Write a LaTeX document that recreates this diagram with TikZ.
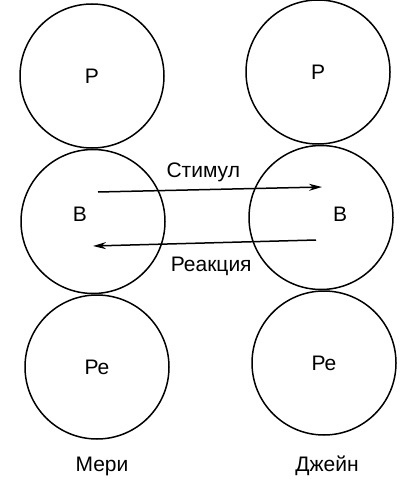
\documentclass[tikz,border=0pt]{standalone}
\usepackage{fontspec}
\setmainfont{Liberation Sans}
\usetikzlibrary{positioning,arrows.meta}

\tikzset{
  state/.style={draw,circle,line width=1.5pt,minimum size=144pt,inner sep=0pt,
    font=\fontsize{21}{25}\selectfont},
  txt/.style={font=\fontsize{21}{25}\selectfont,inner sep=1pt},
  msg/.style={line width=1.5pt,-{Stealth[length=13pt,width=7pt]}}
}

\begin{document}
\begin{tikzpicture}[x=1pt,y=-1pt]
\useasboundingbox (0,0) rectangle (400,481);

\node[state] (MeriP) at (92,76) {Р};
\node[state] (MeriB) [below=0pt of MeriP,xshift=1pt] {};
\node[state] (MeriRe) [below=0pt of MeriB,xshift=4pt] {Ре};
\node[state] (JaneP) at (318,72) {Р};
\node[state] (JaneB) [below=0pt of JaneP,xshift=3pt] {};
\node[state] (JaneRe) [below=0pt of JaneB,xshift=3pt] {Ре};

\node[txt] at ([xshift=-13pt,yshift=7pt]MeriB.center) {В};
\node[txt] at ([xshift=19pt,yshift=3pt]JaneB.center) {В};

\node[txt] (Meri) [below=16pt of MeriRe,xshift=5pt] {Мери};
\node[txt] (Jane) [below=19pt of JaneRe,xshift=3pt] {Джейн};

\coordinate (StimA) at (98,192);
\coordinate (StimB) at (322,187);
\coordinate (ReakA) at (316,240);
\coordinate (ReakB) at (93,246);

\draw[msg] (StimA) -- node[txt,above=6pt,pos=.47] {Стимул} (StimB);
\draw[msg] (ReakA) -- node[txt,below=12pt,pos=.47] {Реакция} (ReakB);
\end{tikzpicture}
\end{document}
